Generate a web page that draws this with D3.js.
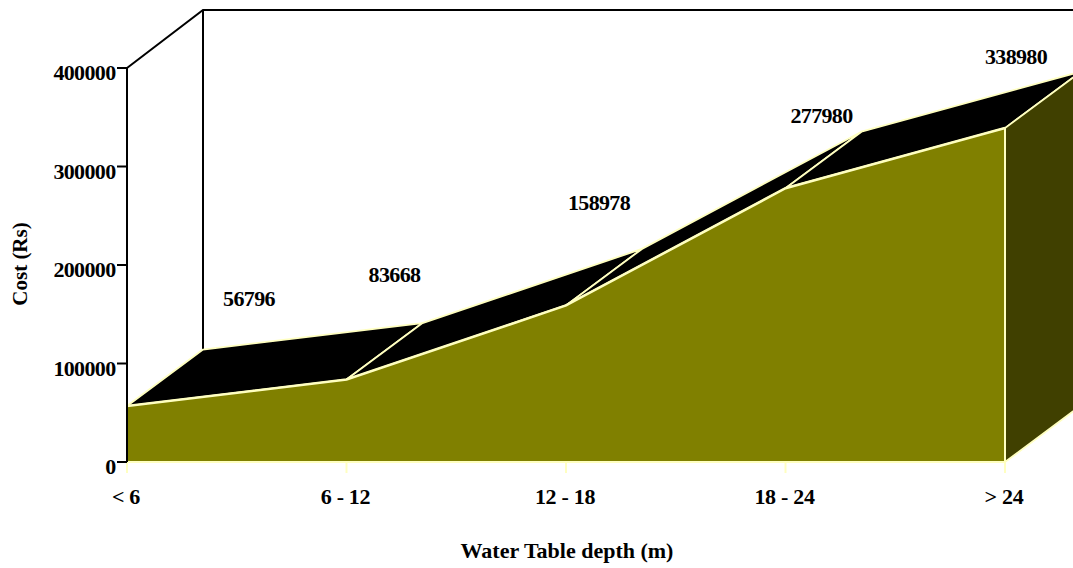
<!DOCTYPE html>
<html>
<head>
<meta charset="utf-8">
<script src="https://cdn.jsdelivr.net/npm/d3@7"></script>
<style>
html,body{margin:0;padding:0;background:#fff;overflow:hidden}
svg{display:block}
text{font-family:"Liberation Serif",serif;font-weight:bold;fill:#000}
</style>
</head>
<body>
<script>
const categories = ["< 6", "6 - 12", "12 - 18", "18 - 24", "> 24"];
const costs = [56796, 83668, 158978, 277980, 338980];
const yTicks = [0, 100000, 200000, 300000, 400000];
const xTitle = "Water Table depth (m)";
const yTitle = "Cost (Rs)";

const W = 1073, H = 568;
const DX = 76, DY = 56.5;
const PALE = "#ffffc0", OLIVE = "#808000", DARK = "#404000";
const FS = 22, TIGHT = -0.65;
const labelShift = [[122, -100.5], [48, -97.5], [33, -95.5], [36, -65.5], [11, -64.5]];

const x = d3.scalePoint().domain(categories).range([127, 1005]);
const y = d3.scaleLinear().domain([0, 400000]).range([462, 68]);

const svg = d3.select("body").append("svg").attr("width", W).attr("height", H).attr("viewBox", `0 0 ${W} ${H}`);
svg.append("defs").append("clipPath").attr("id", "c").append("rect").attr("width", W).attr("height", H);
const g = svg.append("g").attr("clip-path", "url(#c)");

const pts = categories.map((c, i) => [x(c), y(costs[i])]);

// back wall
g.append("path")
  .attr("d", `M${x.range()[0]},${y(400000)}L${x.range()[0] + DX},10H${W + 10}`)
  .attr("fill", "none").attr("stroke", "#000").attr("stroke-width", 2);
g.append("line")
  .attr("x1", x.range()[0] + DX).attr("x2", x.range()[0] + DX)
  .attr("y1", 10).attr("y2", pts[0][1] - DY)
  .attr("stroke", "#000").attr("stroke-width", 2);

// top surface
d3.pairs(pts).forEach(([a, b]) => {
  g.append("path")
    .attr("d", `M${a}L${b}L${b[0] + DX},${b[1] - DY}L${a[0] + DX},${a[1] - DY}Z`)
    .attr("fill", "#000").attr("stroke", PALE).attr("stroke-width", 1.8).attr("stroke-linejoin", "round");
});

// right side
const last = pts[pts.length - 1];
g.append("path")
  .attr("d", `M${last}L${last[0] + DX},${last[1] - DY}V${y(0) - DY}L${last[0]},${y(0)}Z`)
  .attr("fill", DARK).attr("stroke", PALE).attr("stroke-width", 1.8);

// front face
const area = d3.area().x((d, i) => x(categories[i])).y0(y(0)).y1(d => y(d));
g.append("path").attr("d", area(costs)).attr("fill", OLIVE).attr("stroke", "none");
g.append("path")
  .attr("d", d3.line().x((d, i) => x(categories[i])).y(d => y(d))(costs))
  .attr("fill", "none").attr("stroke", PALE).attr("stroke-width", 2.6);
g.append("line").attr("x1", last[0]).attr("x2", last[0]).attr("y1", last[1]).attr("y2", y(0))
  .attr("stroke", PALE).attr("stroke-width", 2);
g.append("line").attr("x1", x.range()[0]).attr("x2", last[0]).attr("y1", y(0)).attr("y2", y(0))
  .attr("stroke", PALE).attr("stroke-width", 2);

// x ticks and labels
categories.forEach(c => {
  g.append("line").attr("x1", x(c)).attr("x2", x(c)).attr("y1", y(0)).attr("y2", y(0) + 11)
    .attr("stroke", PALE).attr("stroke-width", 2);
  g.append("text").attr("x", x(c) - 1).attr("y", 504).attr("text-anchor", "middle")
    .attr("font-size", FS).attr("letter-spacing", -0.3).text(c);
});

// y axis
g.append("line").attr("x1", 127).attr("x2", 127).attr("y1", y(400000)).attr("y2", y(0))
  .attr("stroke", "#000").attr("stroke-width", 2);
yTicks.forEach(t => {
  g.append("line").attr("x1", 117).attr("x2", 127).attr("y1", y(t)).attr("y2", y(t))
    .attr("stroke", "#000").attr("stroke-width", 2);
  g.append("text").attr("x", 115.5).attr("y", y(t) + 12).attr("text-anchor", "end")
    .attr("font-size", FS).attr("letter-spacing", TIGHT).text(t);
});

// value labels
costs.forEach((v, i) => {
  g.append("text")
    .attr("x", pts[i][0] + labelShift[i][0]).attr("y", pts[i][1] + labelShift[i][1])
    .attr("text-anchor", "middle").attr("font-size", FS).attr("letter-spacing", TIGHT).text(v);
});

// titles
g.append("text").attr("x", 567).attr("y", 558).attr("text-anchor", "middle").attr("font-size", FS).text(xTitle);
g.append("text").attr("transform", "translate(27,264) rotate(-90)").attr("text-anchor", "middle").attr("font-size", 21).text(yTitle);
</script>
</body>
</html>
